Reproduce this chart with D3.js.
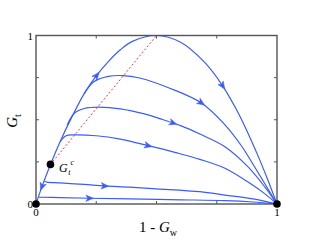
<!DOCTYPE html>
<html>
<head>
<meta charset="utf-8">
<script src="https://cdn.jsdelivr.net/npm/d3@7"></script>
<style>
  body { margin: 0; background: #fff; }
  svg { display: block; }
  text { font-family: "Liberation Serif", "Times New Roman", serif; fill: #000; }
</style>
</head>
<body>
<svg id="chart" width="312" height="241"></svg>
<script>
// trajectories, [1 - Gw, Gt]
const main_curve = [
  [0, 0], [0.024, 0.1], [0.06, 0.235], [0.1, 0.37], [0.15, 0.52], [0.2, 0.655],
  [0.25, 0.76], [0.3, 0.845], [0.35, 0.915], [0.4, 0.965], [0.5, 1.0], [0.6, 0.96],
  [0.7, 0.84], [0.775, 0.7], [0.83, 0.565], [0.87, 0.45], [0.92, 0.29], [0.96, 0.15], [1, 0]
];
const curve_2 = [
  [0.2, 0.655], [0.24, 0.725], [0.3, 0.757], [0.36, 0.762], [0.43, 0.748], [0.55, 0.69],
  [0.688, 0.598], [0.784, 0.47], [0.85, 0.35], [0.92, 0.19], [1, 0]
];
const curve_3 = [
  [0.13, 0.47], [0.16, 0.54], [0.2, 0.567], [0.26, 0.575], [0.35, 0.565], [0.45, 0.535],
  [0.528, 0.5], [0.6, 0.465], [0.68, 0.415], [0.784, 0.34], [0.88, 0.22], [0.95, 0.1], [1, 0]
];
const curve_4 = [
  [0.1, 0.37], [0.125, 0.405], [0.155, 0.41], [0.25, 0.405], [0.35, 0.385], [0.466, 0.346],
  [0.58, 0.305], [0.68, 0.265], [0.784, 0.212], [0.88, 0.13], [0.95, 0.06], [1, 0]
];
const curve_5 = [
  [0.035, 0.135], [0.045, 0.13], [0.1, 0.125], [0.2, 0.116], [0.286, 0.107], [0.39, 0.1],
  [0.5, 0.09], [0.68, 0.073], [0.784, 0.053], [0.9, 0.03], [1, 0]
];
const curve_6 = [
  [0.012, 0.04], [0.1, 0.038], [0.224, 0.034], [0.39, 0.03], [0.6, 0.025],
  [0.784, 0.02], [0.9, 0.012], [1, 0]
];
const curves = [main_curve, curve_2, curve_3, curve_4, curve_5, curve_6];

// arrows: which curve, at which 1 - Gw, and direction (+1 along, -1 against)
const arrow_curve = [0, 0, 0, 1, 2, 3, 4, 5];
const arrow_x = [0.024, 0.252, 0.775, 0.688, 0.57, 0.466, 0.286, 0.224];
const arrow_dir = [-1, 1, 1, 1, 1, 1, 1, 1];

const critical_point = [0.06, 0.235];
const peak_point = [0.5, 1.0];
const fixed_points = [[0, 0], [1, 0]];

const tick_values = [0, 0.25, 0.5, 0.75, 1];
const tick_labels = ["0", "1"];

const blue = "#3a5cff";
const svg = d3.select("#chart");

const x = d3.scaleLinear().domain([0, 1]).range([36, 277]);
const y = d3.scaleLinear().domain([0, 1]).range([204, 35.5]);

const line = d3.line()
  .x((d) => x(d[0]))
  .y((d) => y(d[1]))
  .curve(d3.curveCatmullRom.alpha(0.5));

// red dashed line Gt^c -> peak
svg.append("line")
  .attr("x1", x(critical_point[0])).attr("y1", y(critical_point[1]))
  .attr("x2", x(peak_point[0])).attr("y2", y(peak_point[1]))
  .attr("stroke", "#ff3b3b")
  .attr("stroke-width", 1)
  .attr("stroke-dasharray", "2,2");

const paths = curves.map((c) =>
  svg.append("path")
    .datum(c)
    .attr("fill", "none")
    .attr("stroke", blue)
    .attr("stroke-width", 1.2)
    .attr("d", line)
    .node()
);

// arrow heads, oriented along the path
function point_at_x(node, px) {
  const total = node.getTotalLength();
  let best = 0, best_d = Infinity;
  for (let l = 0; l <= total; l += 0.5) {
    const p = node.getPointAtLength(l);
    const d = Math.abs(p.x - px);
    if (d < best_d) { best_d = d; best = l; }
  }
  return best;
}

arrow_x.forEach((ax, i) => {
  const node = paths[arrow_curve[i]];
  const l = point_at_x(node, x(ax));
  const p = node.getPointAtLength(l);
  const a = node.getPointAtLength(Math.max(0, l - 2));
  const b = node.getPointAtLength(Math.min(node.getTotalLength(), l + 2));
  let angle = Math.atan2(b.y - a.y, b.x - a.x) * 180 / Math.PI;
  if (arrow_dir[i] < 0) angle += 180;
  svg.append("path")
    .attr("transform", `translate(${p.x},${p.y}) rotate(${angle})`)
    .attr("d", "M3.5,0 L-4,-3.2 L-2,0 L-4,3.2 Z")
    .attr("fill", blue)
    .attr("stroke", blue)
    .attr("stroke-width", 0.5)
    .attr("stroke-linejoin", "round");
});

// frame + inner ticks
const frame = svg.append("g").attr("stroke", "#555").attr("fill", "none");
frame.append("rect")
  .attr("x", x(0)).attr("y", y(1))
  .attr("width", x(1) - x(0)).attr("height", y(0) - y(1))
  .attr("stroke-width", 1.4);
tick_values.slice(1, -1).forEach((t) => {
  frame.append("line").attr("x1", x(t)).attr("x2", x(t)).attr("y1", y(0)).attr("y2", y(0) - 3);
  frame.append("line").attr("x1", x(t)).attr("x2", x(t)).attr("y1", y(1)).attr("y2", y(1) + 3);
  frame.append("line").attr("y1", y(t)).attr("y2", y(t)).attr("x1", x(0)).attr("x2", x(0) + 3);
  frame.append("line").attr("y1", y(t)).attr("y2", y(t)).attr("x1", x(1)).attr("x2", x(1) - 3);
});

// tick labels (0 and 1 only)
[0, 1].forEach((v, i) => {
  svg.append("text")
    .attr("x", x(v)).attr("y", y(0) + 12)
    .attr("text-anchor", "middle").attr("font-size", 11)
    .text(tick_labels[i]);
  svg.append("text")
    .attr("x", x(0) - 3).attr("y", y(v) + 4)
    .attr("text-anchor", "end").attr("font-size", 11)
    .text(tick_labels[i]);
});

// dots
fixed_points.concat([critical_point]).forEach((d) => {
  svg.append("circle")
    .attr("cx", x(d[0])).attr("cy", y(d[1]))
    .attr("r", 3.8).attr("fill", "#000");
});

// Gt^c label
const gc = svg.append("text").attr("x", 59).attr("y", 172).attr("font-size", 12);
gc.append("tspan").attr("font-style", "italic").text("G");
gc.append("tspan").attr("font-style", "italic").attr("font-size", 8).attr("dy", 3).attr("dx", 0.5).text("t");
gc.append("tspan").attr("font-style", "italic").attr("font-size", 8).attr("dy", -10).attr("dx", 0).text("c");

// axis titles
const xt = svg.append("text")
  .attr("x", 158).attr("y", 232)
  .attr("text-anchor", "middle").attr("font-size", 15);
xt.append("tspan").text("1 - ");
xt.append("tspan").attr("font-style", "italic").text("G");
xt.append("tspan").attr("font-size", 10).attr("dy", 4).text("w");

const yt = svg.append("text")
  .attr("transform", "translate(17,121) rotate(-90)")
  .attr("text-anchor", "middle").attr("font-size", 15);
yt.append("tspan").attr("font-style", "italic").text("G");
yt.append("tspan").attr("font-size", 10).attr("dy", 4).text("t");
</script>
</body>
</html>
